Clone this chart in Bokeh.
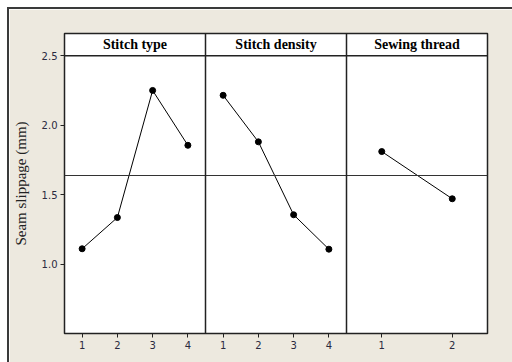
from bokeh.plotting import figure
from bokeh.models import Span, FixedTicker, ColumnDataSource
from bokeh.core.properties import value
from bokeh.embed import file_html
from bokeh.resources import INLINE

factors = ["Stitch type", "Stitch density", "Sewing thread"]
stitch_type_levels = [1, 2, 3, 4]
stitch_type_means = [1.11, 1.335, 2.25, 1.855]
stitch_density_levels = [1, 2, 3, 4]
stitch_density_means = [2.215, 1.88, 1.355, 1.107]
sewing_thread_levels = [1, 2]
sewing_thread_means = [1.81, 1.47]
y_ticks = [1.0, 1.5, 2.0, 2.5]
y_label = "Seam slippage (mm)"

BG = "#EDE9DF"
FONT_T = "DejaVu Sans"

# panel layout: each panel spans 4 x-units
panels = [
    (stitch_type_levels, stitch_type_means, 0.5, 1.0),
    (stitch_density_levels, stitch_density_means, 4.5, 1.0),
    (sewing_thread_levels, sewing_thread_means, 8.5, 2.0),
]

p = figure(width=505, height=355, x_range=(0.5, 12.5), y_range=(0.5, 2.66),
           output_backend="svg", toolbar_location=None,
           background_fill_color="white", border_fill_color=BG,
           min_border_left=52, min_border_right=29, min_border_top=24,
           min_border_bottom=33)
p.margin = (7, 0, 0, 7)
p.styles = {"border-left": "2px solid #3a3a3a", "border-top": "2px solid #3a3a3a",
            "box-sizing": "content-box"}
p.grid.visible = False
p.outline_line_color = "#222222"
p.outline_line_width = 1.5

tick_pos = []
overrides = {}
for levels, means, start, scale in panels:
    xs = [start + (l - 0.5) * scale for l in levels]
    src = ColumnDataSource(dict(x=xs, y=means))
    p.line("x", "y", source=src, line_color="black", line_width=1)
    p.scatter("x", "y", source=src, size=6, color="black")
    for l, x in zip(levels, xs):
        tick_pos.append(x)
        overrides[x] = str(l)

grand_mean = sum(stitch_type_means) / len(stitch_type_means)
p.add_layout(Span(location=grand_mean, dimension="width", line_color="#333333", line_width=1))
p.add_layout(Span(location=2.5, dimension="width", line_color="#222222", line_width=1.5))
for x in [4.5, 8.5]:
    p.add_layout(Span(location=x, dimension="height", line_color="#222222", line_width=1.5))

centers = [2.5, 6.5, 10.5]
p.text(x=centers, y=[2.58] * 3, text=factors, text_align="center", text_baseline="middle",
       text_font=value("Liberation Serif"), text_font_style="bold", text_font_size="14px",
       text_color="black")

p.xaxis.ticker = FixedTicker(ticks=tick_pos)
p.xaxis.major_label_overrides = overrides
p.yaxis.ticker = FixedTicker(ticks=y_ticks)
p.yaxis.major_label_overrides = {1.0: "1.0", 1.5: "1.5", 2.0: "2.0", 2.5: "2.5"}
for ax in [p.xaxis[0], p.yaxis[0]]:
    ax.axis_line_color = None
    ax.major_tick_line_color = "#222222"
    ax.major_tick_in = 0
    ax.major_tick_out = 4
    ax.minor_tick_line_color = None
    ax.major_label_text_font = FONT_T
    ax.major_label_text_font_size = "10px"
    ax.major_label_text_color = "#2a2a40"
p.yaxis.axis_label = y_label
p.yaxis.axis_label_text_font = "Liberation Serif"
p.yaxis.axis_label_text_font_style = "normal"
p.yaxis.axis_label_text_font_size = "15px"
p.yaxis.axis_label_text_color = "#222222"
p.yaxis.axis_label_standoff = 10
p.yaxis.major_label_standoff = 3
p.xaxis.major_label_standoff = 3

open("out.html", "w").write(file_html(p, INLINE))
